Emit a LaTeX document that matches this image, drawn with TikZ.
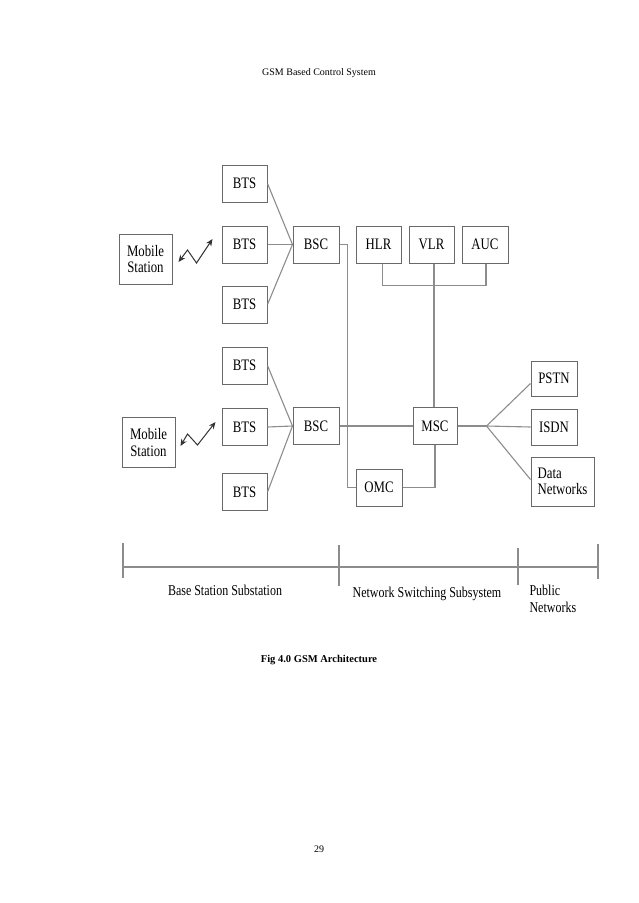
\documentclass[tikz,border=0pt]{standalone}
\usepackage{fontspec}
\setmainfont{Liberation Serif}
\newfontfamily\gsmfont[FakeStretch=0.8]{Liberation Serif}
\usetikzlibrary{arrows.meta,positioning,calc}
\definecolor{gsmLine}{RGB}{140,140,140}
\definecolor{gsmBorder}{RGB}{105,105,105}

\begin{document}
\begin{tikzpicture}[
  x=1pt,y=-1pt,
  unit/.style={
    draw=gsmBorder,
    line width=1pt,
    minimum width=45pt,
    minimum height=37pt,
    inner sep=1pt,
    align=center,
    font=\gsmfont\fontsize{16}{16.5}\selectfont
  },
  link/.style={gsmLine,line width=1.1pt},
  radio/.style={{Stealth[length=7pt,width=6pt]}-{Stealth[length=7pt,width=6pt]},line width=1pt,black!80},
  tag/.style={font=\gsmfont\fontsize{15}{17}\selectfont}
]
  \useasboundingbox (0,0) rectangle (638,903);
  \node[font=\fontsize{10}{12}\selectfont] (title) at (319,73) {GSM Based Control System};

  % base station substation
  \node[unit] (bts1) at (244.5,183.5) {BTS};
  \node[unit] (bts2) at (244.5,244.5) {BTS};
  \node[unit] (bts3) at (244.5,304.5) {BTS};
  \node[unit] (bts4) at (244.5,365.5) {BTS};
  \node[unit] (bts5) at (244.5,427) {BTS};
  \node[unit] (bts6) at (244.5,492) {BTS};
  \node[unit,minimum width=53pt,minimum height=50pt] (ms1) at (145.5,259) {Mobile\\Station};
  \node[unit,minimum width=53pt,minimum height=50pt] (ms2) at (148.5,442.5) {Mobile\\Station};
  \node[unit,minimum width=46pt] (bsc1) at (316,244.5) {BSC};
  \node[unit,minimum width=46pt] (bsc2) at (316,426) {BSC};

  % network switching subsystem
  \node[unit] (hlr) at (378.5,244.5) {HLR};
  \node[unit] (vlr) at (431.5,244.5) {VLR};
  \node[unit,minimum width=46pt] (auc) at (485,244.5) {AUC};
  \node[unit,minimum width=44pt] (msc) at (435,426) {MSC};
  \node[unit,minimum width=46pt] (omc) at (379,487.5) {OMC};

  % public networks
  \node[unit,minimum width=46pt,minimum height=35pt] (pstn) at (554,378.5) {PSTN};
  \node[unit,minimum width=46pt,minimum height=36pt] (isdn) at (554,427) {ISDN};
  \node[unit,minimum width=63pt,minimum height=49pt,align=left] (data) at (562.5,481.5) {Data\\Networks};

  \draw[link] (bts1.east) -- (bsc1.west);
  \draw[link] (bts2.east) -- (bsc1.west);
  \draw[link] (bts3.east) -- (bsc1.west);
  \draw[link] (bts4.east) -- (bsc2.west);
  \draw[link] (bts5.east) -- (bsc2.west);
  \draw[link] (bts6.east) -- (bsc2.west);
  \draw[link] (bsc1.east) -- ++(8,0) |- (omc.west);
  \draw[link] (bsc2.east) -- (msc.west);
  \draw[link] (omc.east) -| (msc.south);
  \draw[link] ([xshift=4pt]hlr.south) -- ++(0,22) -| ([xshift=1pt]auc.south);
  \draw[link] ([xshift=2.5pt]vlr.south) -- ([xshift=-1pt]msc.north);
  \coordinate[right=29pt of msc.east] (fan);
  \draw[link] (msc.east) -- (fan);
  \draw[link] (fan) -- ([yshift=-5pt]pstn.west);
  \draw[link] (fan) -- (isdn.west);
  \draw[link] (fan) -- ([yshift=2pt]data.west);

  \draw[radio] ($(ms1.east)+(6,3)$) -- ++(9,-12) -- ++(9,13) -- ++(16,-24);
  \draw[radio] ($(ms2.east)+(5,3.5)$) -- ++(7,-12) -- ++(10,11) -- ++(18,-23);

  % subsystem scale
  \coordinate (s0) at (123,567);
  \coordinate (s1) at (339,567);
  \coordinate (s2) at (518,567);
  \coordinate (s3) at (598,567);
  \draw[link] (s0) -- (s3);
  \draw[link] ($(s0)+(0,-24)$) -- ++(0,35);
  \draw[link] ($(s1)+(0,-22)$) -- ++(0,41);
  \draw[link] ($(s2)+(0,-19)$) -- ++(0,37);
  \draw[link] ($(s3)+(0,-23)$) -- ++(0,35);
  \node[tag] (bss) at (225,590) {Base Station Substation};
  \node[tag] (nss) at (427,594) {Network Switching Subsystem};
  \node[tag,align=left,anchor=north west] (pub) at (526,582) {Public\\Networks};

  \node[font=\bfseries\fontsize{10.5}{12}\selectfont] (caption) at (319,660) {Fig 4.0 GSM Architecture};
  \node[font=\fontsize{10}{12}\selectfont] (page) at (319,849) {29};
\end{tikzpicture}
\end{document}
